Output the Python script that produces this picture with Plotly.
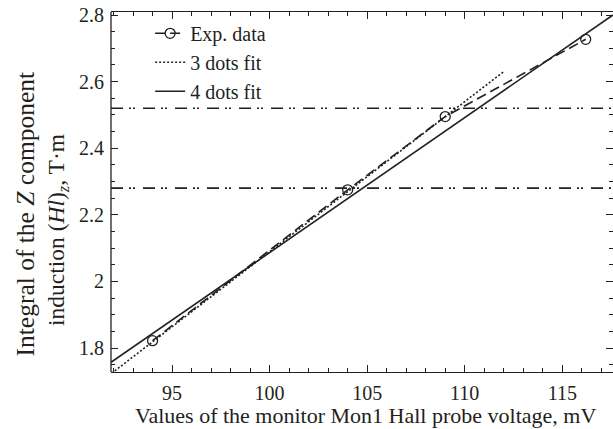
import plotly.graph_objects as go

# Experimental data
exp_x = [94.0, 104.0, 109.0, 116.2]
exp_y = [1.822, 2.275, 2.495, 2.727]

# 3 dots fit (endpoints)
fit3_x = [91.9, 112.0]
fit3_y = [1.724, 2.63]

# 4 dots fit (endpoints)
fit4_x = [91.87, 117.6]
fit4_y = [1.757, 2.80]

# horizontal reference levels
levels = [2.28, 2.52]

x_range = [91.87, 117.6]
y_range = [1.728, 2.809]
x_ticks = [95, 100, 105, 110, 115]
y_ticks = [1.8, 2.0, 2.2, 2.4, 2.6, 2.8]
y_ticklabels = ["1.8", "2", "2.2", "2.4", "2.6", "2.8"]

FONT = "Liberation Serif, Times New Roman, serif"
INK = "#231f20"

fig = go.Figure()

fig.add_trace(go.Scatter(
    x=exp_x, y=exp_y, mode="lines+markers", name="Exp. data",
    line=dict(color=INK, width=1.6, dash="10px,5px"),
    marker=dict(symbol="circle-open", size=10, color=INK, line=dict(width=1.3, color=INK)),
))
fig.add_trace(go.Scatter(
    x=fit3_x, y=fit3_y, mode="lines", name="3 dots fit",
    line=dict(color=INK, width=1.6, dash="2px,2px"),
))
fig.add_trace(go.Scatter(
    x=fit4_x, y=fit4_y, mode="lines", name="4 dots fit",
    line=dict(color=INK, width=1.6),
))
# empty trace to activate the right-side tick axis
fig.add_trace(go.Scatter(x=[None], y=[None], yaxis="y2", showlegend=False, hoverinfo="skip"))

for lv in levels:
    fig.add_hline(y=lv, line=dict(color=INK, width=1.6, dash="12px,6px,2px,2px,2px,8px"))

# left frame line of the plot area
fig.add_shape(type="line", xref="paper", yref="paper", x0=0, x1=0, y0=0, y1=1,
              line=dict(color=INK, width=1.3), layer="above")

fig.update_layout(
    width=613, height=429,
    margin=dict(l=111, r=0, t=12, b=57),
    paper_bgcolor="white", plot_bgcolor="white",
    font=dict(family=FONT, size=20, color=INK),
    showlegend=True,
    legend=dict(x=0.078, y=0.995, xanchor="left", yanchor="top",
                bgcolor="rgba(0,0,0,0)", font=dict(size=20, family=FONT),
                tracegroupgap=0),
    xaxis=dict(range=x_range, tickvals=x_ticks, ticks="inside", ticklen=7, tickwidth=1.2,
               tickcolor=INK, showline=True, linecolor=INK, linewidth=1.3, mirror="ticks",
               showgrid=False, zeroline=False, tickfont=dict(size=20, family=FONT),
               minor=dict(dtick=1, tick0=95, ticks="inside", ticklen=4, tickcolor=INK, showgrid=False),
               ticklabelstandoff=3),
    yaxis=dict(range=y_range, tickvals=y_ticks, ticktext=y_ticklabels, ticks="inside", ticklen=7,
               tickwidth=1.2, tickcolor=INK, showline=False,
               showgrid=False, zeroline=False, tickfont=dict(size=20, family=FONT),
               minor=dict(dtick=0.05, tick0=1.8, ticks="inside", ticklen=4, tickcolor=INK, showgrid=False),
               ticklabelstandoff=6),
    yaxis2=dict(range=y_range, overlaying="y", side="right", anchor="x", tickvals=y_ticks,
                ticks="inside", ticklen=7, tickwidth=1.2, tickcolor=INK, showticklabels=False,
                showline=False, showgrid=False, zeroline=False,
                minor=dict(dtick=0.05, tick0=1.8, ticks="inside", ticklen=4, tickcolor=INK, showgrid=False)),
)

# axis titles as annotations
fig.add_annotation(text="Values of the monitor Mon1 Hall probe voltage, mV",
                   xref="paper", yref="paper", x=(365.5 - 111) / 502, y=(372 - 415) / 360,
                   xanchor="center", yanchor="middle", showarrow=False,
                   font=dict(size=22, family=FONT, color=INK))
fig.add_annotation(text="Integral of the <i>Z</i> component",
                   xref="paper", yref="paper", x=(25 - 111) / 502, y=(372 - 214.5) / 360,
                   xanchor="center", yanchor="middle", showarrow=False, textangle=-90,
                   font=dict(size=25.5, family=FONT, color=INK))
fig.add_annotation(text="induction (<i>Hl</i>)<sub><i>z</i></sub>, T·m",
                   xref="paper", yref="paper", x=(58 - 111) / 502, y=(372 - 230) / 360,
                   xanchor="center", yanchor="middle", showarrow=False, textangle=-90,
                   font=dict(size=23.5, family=FONT, color=INK))

fig.write_html("out.html", config={"displayModeBar": False},
               post_script="document.body.style.margin='0px';document.body.style.overflow='hidden';")
